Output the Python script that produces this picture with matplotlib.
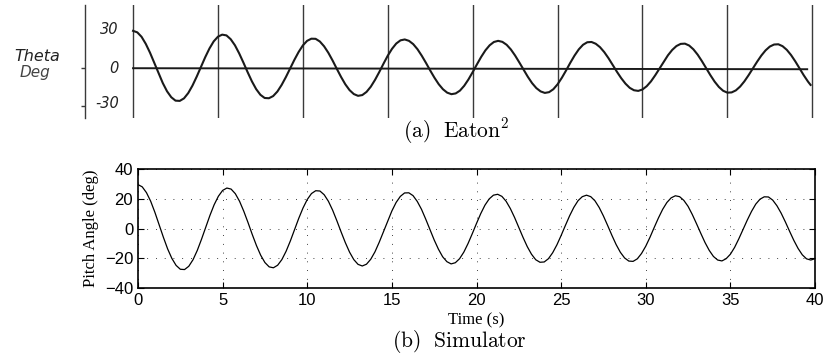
import matplotlib
matplotlib.use("Agg")
from matplotlib import pyplot as plt

plt.rcParams['mathtext.fontset'] = 'cm'

# (a) Eaton strip chart (deg), every 0.25 s
eaton_t = [i * 0.25 for i in range(160)] + [39.9]
eaton_theta = [
    29.7, 28.5, 25.0, 19.4, 12.4, 4.4, -3.8, -11.5,
    -18.0, -22.7, -25.4, -25.6, -23.6, -19.4, -13.5, -6.4,
    1.3, 8.9, 15.8, 21.4, 25.1, 26.7, 26.1, 23.1,
    18.3, 11.9, 4.6, -3.0, -10.2, -16.3, -20.8, -23.3,
    -23.5, -21.8, -18.2, -13.0, -6.8, 0.0, 6.8, 13.0,
    18.2, 21.8, 23.5, 23.4, 21.3, 17.5, 12.4, 6.3,
    -0.3, -6.7, -12.5, -17.1, -20.2, -21.6, -21.0, -18.5,
    -14.4, -9.0, -2.8, 3.8, 10.1, 15.5, 19.7, 22.2,
    22.9, 21.8, 19.2, 15.2, 10.1, 4.4, -1.6, -7.3,
    -12.4, -16.4, -19.1, -20.3, -19.7, -17.5, -13.7, -8.7,
    -2.9, 3.2, 9.1, 14.3, 18.3, 20.9, 21.8, 21.0,
    18.7, 15.0, 10.2, 4.7, -1.0, -6.6, -11.6, -15.5,
    -18.1, -19.3, -18.7, -16.4, -12.5, -7.4, -1.6, 4.5,
    10.2, 15.1, 18.7, 20.7, 20.9, 19.5, 16.8, 12.9,
    8.1, 2.7, -2.7, -7.7, -12.0, -15.3, -17.2, -17.7,
    -16.6, -14.0, -10.2, -5.4, -0.1, 5.3, 10.4, 14.6,
    17.7, 19.4, 19.6, 18.1, 15.1, 10.9, 5.8, 0.2,
    -5.3, -10.4, -14.6, -17.6, -19.1, -18.9, -17.3, -14.3,
    -10.2, -5.3, 0.0, 5.3, 10.2, 14.3, 17.3, 18.9,
    19.1, 17.6, 14.7, 10.6, 5.6, 0.1, -5.4, -10.4,
    -13.0]
eaton_base_t = [0, 39.7]
eaton_base = [0.2, -0.6]
eaton_grid = [0, 5, 10, 15, 20, 25, 30, 35, 40]
eaton_labels = ['30', '0', '-30']
eaton_label_y = [31, 0, -28]

# (b) simulator pitch angle (deg), every 0.25 s
sim_t = [i * 0.25 for i in range(161)]
sim_pitch = [
    29.5, 28.0, 24.1, 18.3, 10.8, 2.5, -5.9, -13.7,
    -20.1, -24.8, -27.4, -27.6, -25.4, -21.0, -14.8, -7.3,
    0.8, 8.8, 16.0, 21.7, 25.6, 27.2, 26.5, 23.4,
    18.3, 11.6, 4.0, -4.0, -11.5, -18.0, -22.9, -25.8,
    -26.4, -24.7, -20.9, -15.3, -8.4, -0.8, 6.9, 13.8,
    19.5, 23.5, 25.4, 25.2, 22.7, 18.3, 12.3, 5.2,
    -2.3, -9.5, -15.9, -20.9, -24.1, -25.2, -24.0, -20.7,
    -15.7, -9.3, -2.2, 5.1, 11.8, 17.5, 21.6, 23.9,
    24.0, 22.1, 18.2, 12.9, 6.3, -0.7, -7.7, -13.9,
    -19.0, -22.3, -23.8, -23.0, -20.3, -15.9, -10.1, -3.5,
    3.4, 10.0, 15.7, 19.9, 22.4, 23.0, 21.6, 18.3,
    13.4, 7.4, 0.7, -6.0, -12.2, -17.3, -21.0, -22.7,
    -22.5, -20.3, -16.3, -11.0, -4.7, 2.0, 8.5, 14.2,
    18.7, 21.4, 22.4, 21.4, 18.6, 14.1, 8.4, 2.0,
    -4.6, -10.8, -16.0, -19.8, -21.9, -22.1, -20.4, -16.8,
    -11.9, -5.9, 0.7, 7.1, 12.9, 17.5, 20.6, 22.0,
    21.4, 18.9, 14.9, 9.4, 3.2, -3.2, -9.4, -14.7,
    -18.8, -21.2, -21.8, -20.3, -17.3, -12.7, -6.9, -0.6,
    5.7, 11.5, 16.4, 19.7, 21.3, 21.2, 19.1, 15.3,
    10.3, 4.4, -1.9, -8.0, -13.4, -17.7, -20.4, -21.2,
    -20.3]

fig = plt.figure(figsize=(8.24, 3.56), dpi=100)

# --- top panel: scanned chart look ---
ax1 = fig.add_axes([0.10316, 0.66854, 0.8857, 0.31742])
ax1.set_xlim(-2.83, 40.15)
ax1.set_ylim(-39.1, 50.1)
for g in eaton_grid:
    ax1.axvline(g, color='#3a3a3a', lw=1.0)
ax1.plot(eaton_base_t, eaton_base, color='#1a1a1a', lw=1.4)
ax1.plot(eaton_t, eaton_theta, color='#1a1a1a', lw=1.5)
for s in ['top', 'right', 'bottom']:
    ax1.spines[s].set_visible(False)
ax1.spines['left'].set_color('#3a3a3a')
ax1.spines['left'].set_linewidth(1.0)
ax1.set_xticks([])
ax1.set_yticks([0, -30])
ax1.set_yticklabels([])
ax1.tick_params(axis='y', direction='out', length=3, width=1.0, color='#3a3a3a')
for lab, yv in zip(eaton_labels, eaton_label_y):
    ax1.text(-0.85, yv, lab, ha='right', va='center', fontsize=10.5,
             style='italic', color='#222222')
fig.text(0.045, 0.84, 'Theta', ha='center', va='center', fontsize=11.5,
         style='italic', color='#222222')
fig.text(0.043, 0.795, 'Deg', ha='center', va='center', fontsize=11,
         style='italic', color='#444444')
fig.text(0.553, 0.632, r'$\mathrm{(a)\ \ Eaton}^{2}$', ha='center', va='center',
         fontsize=15.5)

# --- bottom panel: simulator ---
ax2 = fig.add_axes([0.16748, 0.19101, 0.8216, 0.33427])
ax2.plot(sim_t, sim_pitch, color='black', lw=0.9)
ax2.set_xlim(0, 40)
ax2.set_ylim(-40, 40)
ax2.set_xticks(range(0, 41, 5))
ax2.set_yticks(range(-40, 41, 20))
ax2.grid(True, color='black', lw=0.6, linestyle=(0, (1, 9.5)))
ax2.tick_params(direction='in', length=4, width=0.8, top=True, right=True,
                labelsize=12, pad=3.5)
for lab in ax2.get_xticklabels() + ax2.get_yticklabels():
    lab.set_family('Liberation Sans')
for s in ax2.spines.values():
    s.set_linewidth(1.2)
ax2.set_xlabel('Time (s)', fontsize=12, family='Liberation Serif', labelpad=3)
ax2.set_ylabel('Pitch Angle (deg)', fontsize=12, family='Liberation Serif', labelpad=4.5)
fig.text(0.558, 0.04, r'$\mathrm{(b)\ \ Simulator}$', ha='center', va='center',
         fontsize=15.5)

plt.savefig('out.png', dpi=100)
